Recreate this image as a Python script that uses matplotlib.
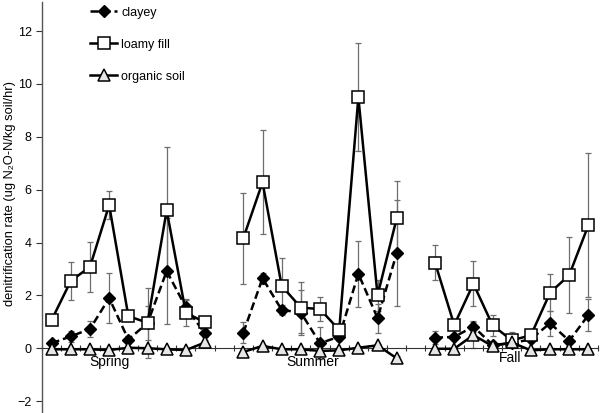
import matplotlib.pyplot as plt
import numpy as np

plt.rcParams["font.family"] = ["Liberation Sans", "DejaVu Sans"]

seasons = ["Spring", "Summer", "Fall"]

# mean denitrification rates, one list per season (9 sampling dates each)
clayey_spring = [0.19, 0.45, 0.73, 1.9, 0.33, 0.95, 2.92, 1.55, 0.56]
clayey_summer = [0.59, 2.65, 1.45, 1.35, 0.19, 0.44, 2.82, 1.14, 3.6]
clayey_fall = [0.4, 0.43, 0.82, 0.13, 0.19, 0.34, 0.95, 0.28, 1.26]

loamy_spring = [1.07, 2.55, 3.08, 5.42, 1.22, 0.96, 5.22, 1.34, 0.98]
loamy_summer = [4.17, 6.28, 2.36, 1.54, 1.48, 0.69, 9.5, 2.0, 4.92]
loamy_fall = [3.24, 0.88, 2.44, 0.87, 0.3, 0.49, 2.1, 2.77, 4.66]

organic_spring = [-0.04, -0.04, -0.04, -0.07, 0.02, 0.0, -0.04, -0.07, 0.22]
organic_summer = [-0.14, 0.09, -0.04, -0.04, -0.1, -0.08, 0.02, 0.11, -0.38]
organic_fall = [-0.02, -0.02, 0.5, 0.08, 0.22, -0.08, -0.04, -0.04, -0.04]

# standard errors
clayey_err_spring = [0.08, 0.2, 0.3, 0.95, 0.12, 0.65, 2.0, 0.3, 0.15]
clayey_err_summer = [0.41, 0.2, 0.2, 0.85, 0.6, 0.15, 1.25, 0.55, 2.0]
clayey_err_fall = [0.24, 0.1, 0.2, 0.1, 0.1, 0.1, 0.47, 0.1, 0.62]

loamy_err_spring = [0.2, 0.73, 0.94, 0.54, 0.2, 1.32, 2.4, 0.5, 0.1]
loamy_err_summer = [1.72, 1.97, 1.05, 0.95, 0.45, 0.2, 2.05, 0.6, 1.4]
loamy_err_fall = [0.65, 0.15, 0.85, 0.4, 0.3, 0.15, 0.7, 1.45, 2.73]

organic_err_spring = [0.03, 0.03, 0.03, 0.03, 0.05, 0.1, 0.03, 0.03, 0.1]
organic_err_summer = [0.05, 0.05, 0.05, 0.05, 0.05, 0.05, 0.05, 0.05, 0.08]
organic_err_fall = [0.03, 0.03, 0.5, 0.05, 0.1, 0.05, 0.03, 0.03, 0.03]


def _join(a, b, c):
    gap = [np.nan]
    return np.array(a + gap + b + gap + c, dtype=float)


clayey = _join(clayey_spring, clayey_summer, clayey_fall)
loamy = _join(loamy_spring, loamy_summer, loamy_fall)
organic = _join(organic_spring, organic_summer, organic_fall)
clayey_err = _join(clayey_err_spring, clayey_err_summer, clayey_err_fall)
loamy_err = _join(loamy_err_spring, loamy_err_summer, loamy_err_fall)
organic_err = _join(organic_err_spring, organic_err_summer, organic_err_fall)
x = np.arange(len(clayey))

fig = plt.figure(figsize=(6.01, 4.13), dpi=100)
ax = fig.add_axes([0.07, 0.0, 0.925, 0.995])

err_kw = dict(fmt="none", ecolor="#6e6e6e", elinewidth=0.9, capsize=2.5,
              capthick=0.9, zorder=2)
ax.errorbar(x, loamy, yerr=loamy_err, **err_kw)
ax.errorbar(x, clayey, yerr=clayey_err, **err_kw)
ax.errorbar(x, organic, yerr=organic_err, **err_kw)

ax.plot(x, clayey, linestyle=(0, (3.2, 1.6)), color="black", linewidth=1.8,
        marker="D", markersize=6, markerfacecolor="black",
        label="clayey", zorder=3)
ax.plot(x, loamy, linestyle="-", color="black", linewidth=1.8,
        marker="s", markersize=8, markerfacecolor="white",
        markeredgewidth=1.1, label="loamy fill", zorder=4)
ax.plot(x, organic, linestyle="-", color="black", linewidth=1.8,
        marker="^", markersize=8, markerfacecolor="#e6e6e6",
        markeredgewidth=1.1, label="organic soil", zorder=4)

ax.set_xlim(-0.5, len(x) - 0.5)
ax.set_ylim(-2.45, 13.1)
ax.set_yticks(np.arange(-2, 13, 2))
ax.set_xticks(np.arange(-0.5, len(x), 1.0))
ax.set_xticklabels([])
ax.tick_params(axis="y", direction="out", length=4, width=0.8,
               labelsize=9, colors="#333333", labelcolor="black")
ax.tick_params(axis="x", direction="inout", length=5, width=0.8,
               colors="#333333")

ax.spines["top"].set_visible(False)
ax.spines["right"].set_visible(False)
ax.spines["bottom"].set_position(("data", 0))
ax.spines["left"].set_color("#555555")
ax.spines["bottom"].set_color("#333333")
ax.spines["left"].set_linewidth(1.0)

ax.set_ylabel("denitrification rate (ug N\u2082O-N/kg soil/hr)", fontsize=9.3)
ax.yaxis.set_label_coords(-0.047, 0.535)

season_x = [3.0, 13.6, 23.9]
season_y = [-0.52, -0.52, -0.38]
for name, sx, sy in zip(seasons, season_x, season_y):
    ax.text(sx, sy, name, ha="center", va="center", fontsize=10)

ax.legend(loc="upper left", bbox_to_anchor=(0.135, 1.005), frameon=False,
          fontsize=9, handlelength=2.2, labelspacing=1.6, handletextpad=0.3,
          borderpad=0.2, bbox_transform=fig.transFigure)

fig.savefig("out.png", dpi=100)
